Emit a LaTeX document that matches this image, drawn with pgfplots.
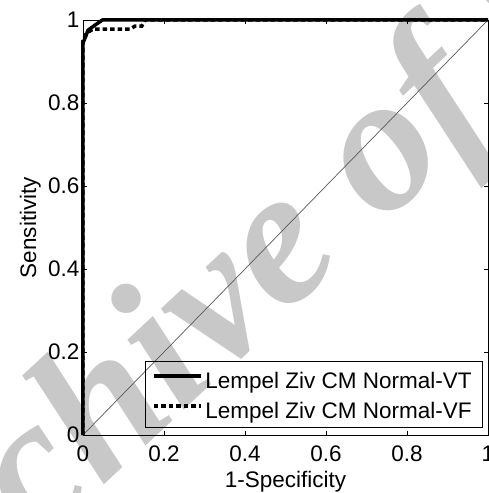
\documentclass[border=0pt]{standalone}
\usepackage{fontspec}
\setmainfont{Liberation Sans}
\newfontfamily\wmfont{Liberation Serif}
\usepackage{pgfplots}
\pgfplotsset{compat=1.18}
\definecolor{wmgray}{RGB}{200,200,200}

\begin{document}
\begin{tikzpicture}
% watermark behind the chart
\node[wmgray, anchor=base west, inner sep=0pt, rotate=43,
      font=\wmfont\bfseries\itshape\fontsize{195pt}{195pt}\selectfont]
      at (-196pt,-252pt) {Archive of SID};
\begin{axis}[
  at={(0,0)}, anchor=south west,
  scale only axis, width=405pt, height=415pt,
  xmin=0, xmax=1, ymin=0, ymax=1,
  clip=false,
  xtick={0,0.2,0.4,0.6,0.8,1},
  ytick={0,0.2,0.4,0.6,0.8,1},
  /pgf/number format/assume math mode=true,
  tick label style={font=\fontsize{22.5pt}{27pt}\selectfont},
  label style={font=\fontsize{22.5pt}{27pt}\selectfont},
  xticklabel style={anchor=base, yshift=-26pt},
  major tick length=4pt,
  tick style={black, line width=0.8pt},
  axis line style={black, line width=0.8pt},
  xlabel={1-Specificity},
  ylabel={Sensitivity},
  x label style={at={(axis description cs:0.5,0)}, anchor=base, yshift=-52pt},
  y label style={at={(axis description cs:-0.13,0.5)}, anchor=center},
  legend cell align=left,
  legend image code/.code={\draw[#1] (0pt,3.3pt) -- (47pt,3.3pt);},
  legend style={at={(axis description cs:0.985,0.0176)}, anchor=south east,
    draw=black, fill=none, inner xsep=7pt, inner ysep=3.7pt, row sep=1pt,
    font=\fontsize{22.5pt}{27pt}\selectfont,
    nodes={inner sep=3pt, text height=21pt, text depth=2pt}},
]
\addplot[black!65, line width=0.7pt, forget plot] coordinates {(0,0) (1,1)};
\addplot[black, line width=3.5pt, line join=round] coordinates {
  (0,0) (0,0.945) (0.0074,0.962) (0.012,0.975) (0.03,0.988) (0.048,1) (1,1)};
\addplot[black, line width=3.5pt, dash pattern=on 4.5pt off 3pt] coordinates {
  (0,0) (0,0.95) (0.008,0.968) (0.025,0.978) (0.06,0.978) (0.116,0.978)
  (0.128,0.985) (0.145,0.985) (0.153,1) (1,1)};
\legend{Lempel Ziv CM Normal-VT, Lempel Ziv CM Normal-VF}
\end{axis}
\pgfresetboundingbox
\useasboundingbox (-83pt,-58pt) rectangle (405pt,435pt);
\end{tikzpicture}
\end{document}
